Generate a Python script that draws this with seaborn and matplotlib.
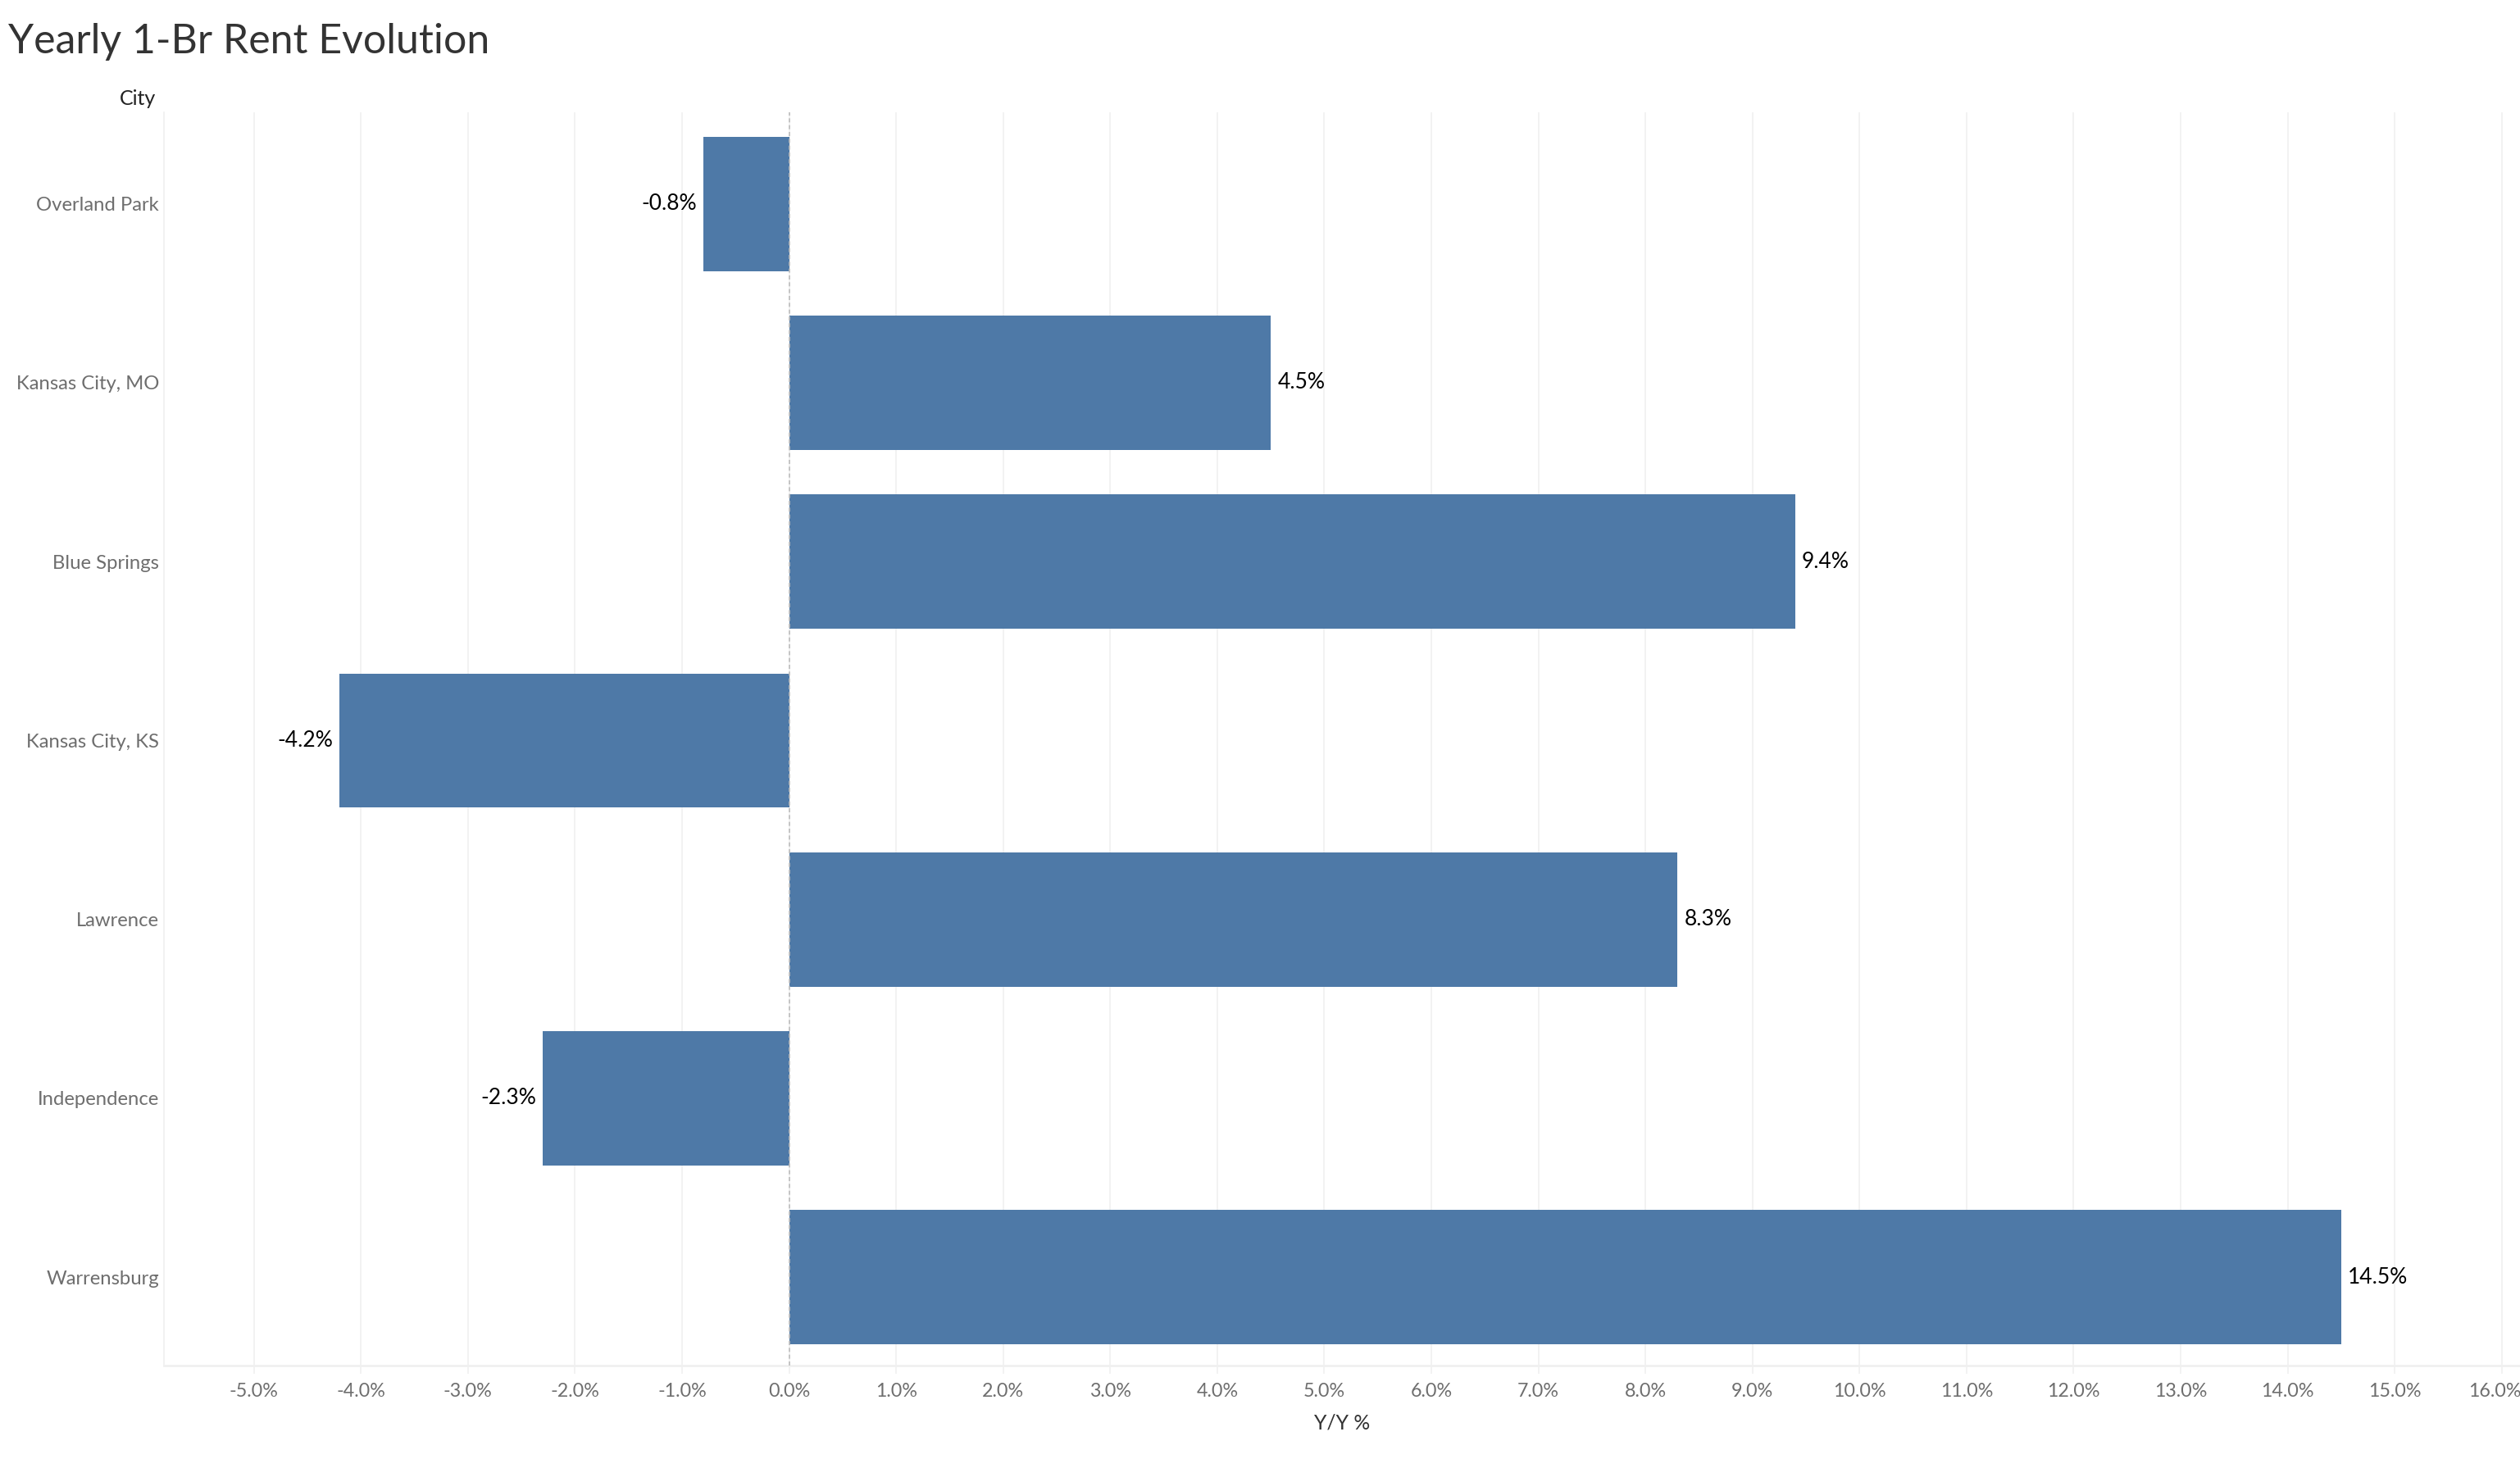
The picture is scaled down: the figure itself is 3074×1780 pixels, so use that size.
import matplotlib
matplotlib.use("Agg")
import matplotlib.pyplot as plt
import matplotlib.transforms as mtransforms
import seaborn as sns
import pandas as pd
from matplotlib.ticker import FixedLocator, FuncFormatter

cities = ["Overland Park", "Kansas City, MO", "Blue Springs", "Kansas City, KS",
          "Lawrence", "Independence", "Warrensburg"]
yoy_pct = [-0.8, 4.5, 9.4, -4.2, 8.3, -2.3, 14.5]
x_ticks = list(range(-5, 17))

df = pd.DataFrame({"City": cities, "YoY": yoy_pct})

sns.set_theme(style="white")
plt.rcParams["font.family"] = ["Lato", "DejaVu Sans"]

W, H, DPI = 3074, 1780, 200
fig = plt.figure(figsize=(W / DPI, H / DPI), dpi=DPI)
ax = fig.add_axes([200 / W, 1 - 1666 / H, (W - 200) / W, (1666 - 137) / H])

sns.barplot(data=df, x="YoY", y="City", orient="h", color="#4e79a7",
            saturation=1, width=0.75, ax=ax, zorder=3, edgecolor="none")

ax.set_xlim(-5.84, 16.17)
ax.set_ylim(6.494, -0.512)

ax.xaxis.set_major_locator(FixedLocator(x_ticks))
ax.xaxis.set_major_formatter(FuncFormatter(lambda v, p: f"{v:.1f}%"))
ax.grid(axis="x", color="#f0f0f0", lw=0.6, zorder=0)
ax.grid(axis="y", visible=False)
ax.axvline(0, color="#bdbdbd", lw=0.6, ls=(0, (3, 2)), zorder=4)

for s in ["top", "right"]:
    ax.spines[s].set_visible(False)
ax.spines["bottom"].set_color("#f0f0f0")
ax.spines["bottom"].set_linewidth(1.0)
ax.spines["left"].set_color("#f0f0f0")
ax.spines["left"].set_linewidth(0.6)

ax.tick_params(axis="x", bottom=True, length=3.6, width=0.6, color="#f0f0f0",
               labelsize=8.4, labelcolor="#6e6e6e", pad=4)
ax.tick_params(axis="y", left=False, length=0, labelsize=8.6, labelcolor="#6e6e6e", pad=2.2)

ax.set_ylabel("")
ax.set_xlabel("Y/Y %", fontsize=8.9, color="#333333", labelpad=6)

for i, v in enumerate(yoy_pct):
    if v >= 0:
        ax.annotate(f"{v:.1f}%", (v, i), xytext=(2.9, 0), textcoords="offset points",
                    ha="left", va="center", fontsize=9.5, color="#000000", zorder=5)
    else:
        ax.annotate(f"{v:.1f}%", (v, i), xytext=(-2.9, 0), textcoords="offset points",
                    ha="right", va="center", fontsize=9.5, color="#000000", zorder=5)

fig.text(10 / W, 1 - 65 / H, "Yearly 1-Br Rent Evolution", fontsize=18,
         color="#333333", ha="left", va="baseline")
fig.text(190 / W, 1 - 121 / H, "City", fontsize=9, color="#222222",
         ha="right", va="center")

# keep the last tick label inside the figure edge
fig.canvas.draw()
last = ax.xaxis.get_major_ticks()[-1].label1
last.set_horizontalalignment("right")
last.set_transform(last.get_transform() +
                   mtransforms.ScaledTranslation(8.5 / 72, 0, fig.dpi_scale_trans))

fig.savefig("out.png", dpi=DPI, facecolor="white")
